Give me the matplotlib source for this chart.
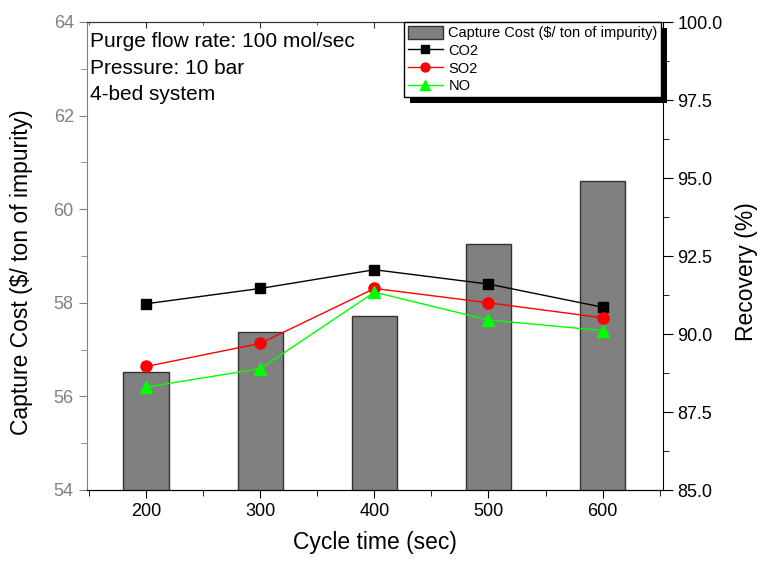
import numpy as np
import matplotlib
matplotlib.use('Agg')
import matplotlib.pyplot as plt
from matplotlib.patches import Rectangle
from matplotlib.ticker import MultipleLocator, FormatStrFormatter

plt.rcParams['font.family'] = ['Liberation Sans', 'DejaVu Sans']

# data
cycle_time = [200, 300, 400, 500, 600]
capture_cost = [56.52, 57.38, 57.72, 59.25, 60.61]
rec_co2 = [90.97, 91.46, 92.06, 91.60, 90.86]
rec_so2 = [88.96, 89.70, 91.46, 91.00, 90.52]
rec_no = [88.30, 88.89, 91.34, 90.45, 90.11]
notes = ["Purge flow rate: 100 mol/sec", "Pressure: 10 bar", "4-bed system"]

fig = plt.figure(figsize=(7.57, 5.63), dpi=100)
ax = fig.add_axes([87/757, 1-490/563, (663-87)/757, (490-22)/563])
ax2 = ax.twinx()

bars = ax.bar(cycle_time, capture_cost, width=40, color='#808080', edgecolor='#333333',
              linewidth=1, label='Capture Cost ($/ ton of impurity)')
ax.set_ylim(54, 64)
ax.set_xlim(148, 653)
ax.set_xticks(cycle_time)
ax.xaxis.set_minor_locator(MultipleLocator(50))
ax.yaxis.set_minor_locator(MultipleLocator(1))
ax.set_xlabel('Cycle time (sec)', fontsize=16.5, labelpad=8)
ax.set_ylabel('Capture Cost ($/ ton of impurity)', fontsize=16.5)
ax.yaxis.set_label_coords(-0.094, 0.466)

l1, = ax2.plot(cycle_time, rec_co2, '-s', color='black', markersize=7, linewidth=1, label='CO2')
l2, = ax2.plot(cycle_time, rec_so2, '-o', color='#ff0000', markersize=8, linewidth=1, label='SO2')
l3, = ax2.plot(cycle_time, rec_no, '-^', color='#00ff00', markersize=9, linewidth=1, label='NO')
ax2.set_ylim(85, 100)
ax2.yaxis.set_major_locator(MultipleLocator(2.5))
ax2.yaxis.set_minor_locator(MultipleLocator(1.25))
ax2.yaxis.set_major_formatter(FormatStrFormatter('%.1f'))
ax2.set_ylabel('Recovery (%)', fontsize=16.5)
ax2.yaxis.set_label_coords(1.125, 0.466)

#spines and ticks
ax2.spines['top'].set_visible(False)
ax.spines['top'].set_color('#333333')
ax.spines['left'].set_color('gray')
ax2.spines['left'].set_visible(False)
ax.spines['right'].set_visible(False)
ax.tick_params(axis='y', which='both', colors='gray', labelsize=13)
ax.tick_params(axis='y', which='major', length=6)
ax.tick_params(axis='y', which='minor', length=4)
ax.tick_params(axis='x', which='major', length=6, labelsize=13)
ax.tick_params(axis='x', which='minor', length=4)
ax2.tick_params(axis='y', which='major', length=7, labelsize=13)
ax2.tick_params(axis='y', which='minor', length=4)

# inward ticks along the top edge, no labels
top = ax.secondary_xaxis('top')
top.set_xticks(cycle_time)
top.xaxis.set_minor_locator(MultipleLocator(50))
top.tick_params(which='major', direction='in', length=4, labeltop=False, color='#333333')
top.tick_params(which='minor', direction='in', length=2.5, color='#333333')
top.spines['top'].set_color('#333333')

ax.text(0.005, 0.978, "\n".join(notes), transform=ax.transAxes, va='top', ha='left',
        fontsize=15, linespacing=1.5)

leg = ax2.legend([bars, l1, l2, l3], [bars.get_label(), 'CO2', 'SO2', 'NO'],
                 loc='upper right', bbox_to_anchor=(0.997, 1.0), borderaxespad=0,
                 fontsize=10.5, fancybox=False, framealpha=1, edgecolor='black',
                 handlelength=2.4, handleheight=1.0, handletextpad=0.4, markerscale=0.8,
                 labelspacing=0.22, borderpad=0.25)
leg.get_frame().set_linewidth(1)

# thick black drop shadow behind the legend box
fig.canvas.draw()
bb = leg.get_window_extent()
shadow = Rectangle((bb.x0 + 6, bb.y0 - 6), bb.width, bb.height, transform=None,
                   facecolor='black', edgecolor='none', zorder=4)
ax2.add_artist(shadow)
shadow.set_clip_on(False)
leg.set_zorder(6)

fig.savefig('out.png', dpi=100)
